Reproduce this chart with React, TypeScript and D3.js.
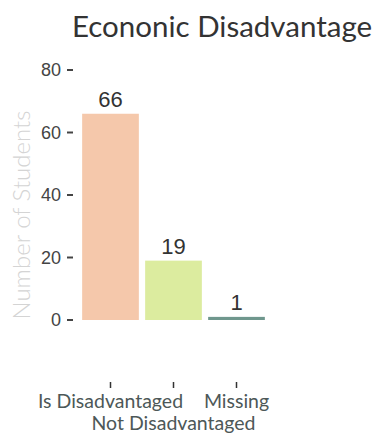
import React from "react";
import * as d3 from "d3";

const categories = ["Is Disadvantaged", "Not Disadvantaged", "Missing"];
const counts = [66, 19, 1];
const barColors = ["#f5c8ab", "#dcec9f", "#6f978d"];
const yTicks = [0, 20, 40, 60, 80];
const title = "Econonic Disadvantage";
const yTitle = "Number of Students";

export default function App() {
  const W = 375, H = 435;
  const x = d3.scaleBand<string>().domain(categories).range([79, 268]).paddingInner(0.1).paddingOuter(0.05);
  const y = d3.scaleLinear().domain([0, 80]).range([320, 70]);
  return (
    <svg width={W} height={H} style={{ position: "absolute", left: 0, top: 0, background: "#fff" }}>
      <text x={222} y={37} textAnchor="middle" fontFamily="Lato" fontSize={29.5} fill="#333">{title}</text>
      <text transform={`translate(30,215) rotate(-90)`} textAnchor="middle" fontFamily="Lato" fontWeight={300} fontSize={24} fill="#d4d4d4">{yTitle}</text>
      {yTicks.map(t => (
        <g key={t}>
          <text x={61} y={y(t)} dy="0.36em" textAnchor="end" fontFamily="Liberation Sans, Arial" fontSize={18} fill="#444">{t}</text>
          <line x1={67} x2={73} y1={y(t)} y2={y(t)} stroke="#444" strokeWidth={2} />
        </g>
      ))}
      {categories.map((c, i) => (
        <g key={c}>
          <rect x={x(c)} y={y(counts[i])} width={x.bandwidth()} height={y(0) - y(counts[i])} fill={barColors[i]} />
          <text x={x(c)! + x.bandwidth() / 2} y={y(counts[i]) - 7} textAnchor="middle" fontFamily="Liberation Sans, Arial" fontSize={22} fill="#333">{counts[i]}</text>
          <line x1={x(c)! + x.bandwidth() / 2} x2={x(c)! + x.bandwidth() / 2} y1={382} y2={388} stroke="#333" strokeWidth={1.5} />
          <text x={x(c)! + x.bandwidth() / 2} y={i % 2 === 0 ? 408 : 430} textAnchor="middle" fontFamily="Lato" fontSize={19.5} fill="#4d5858">{c}</text>
        </g>
      ))}
    </svg>
  );
}
